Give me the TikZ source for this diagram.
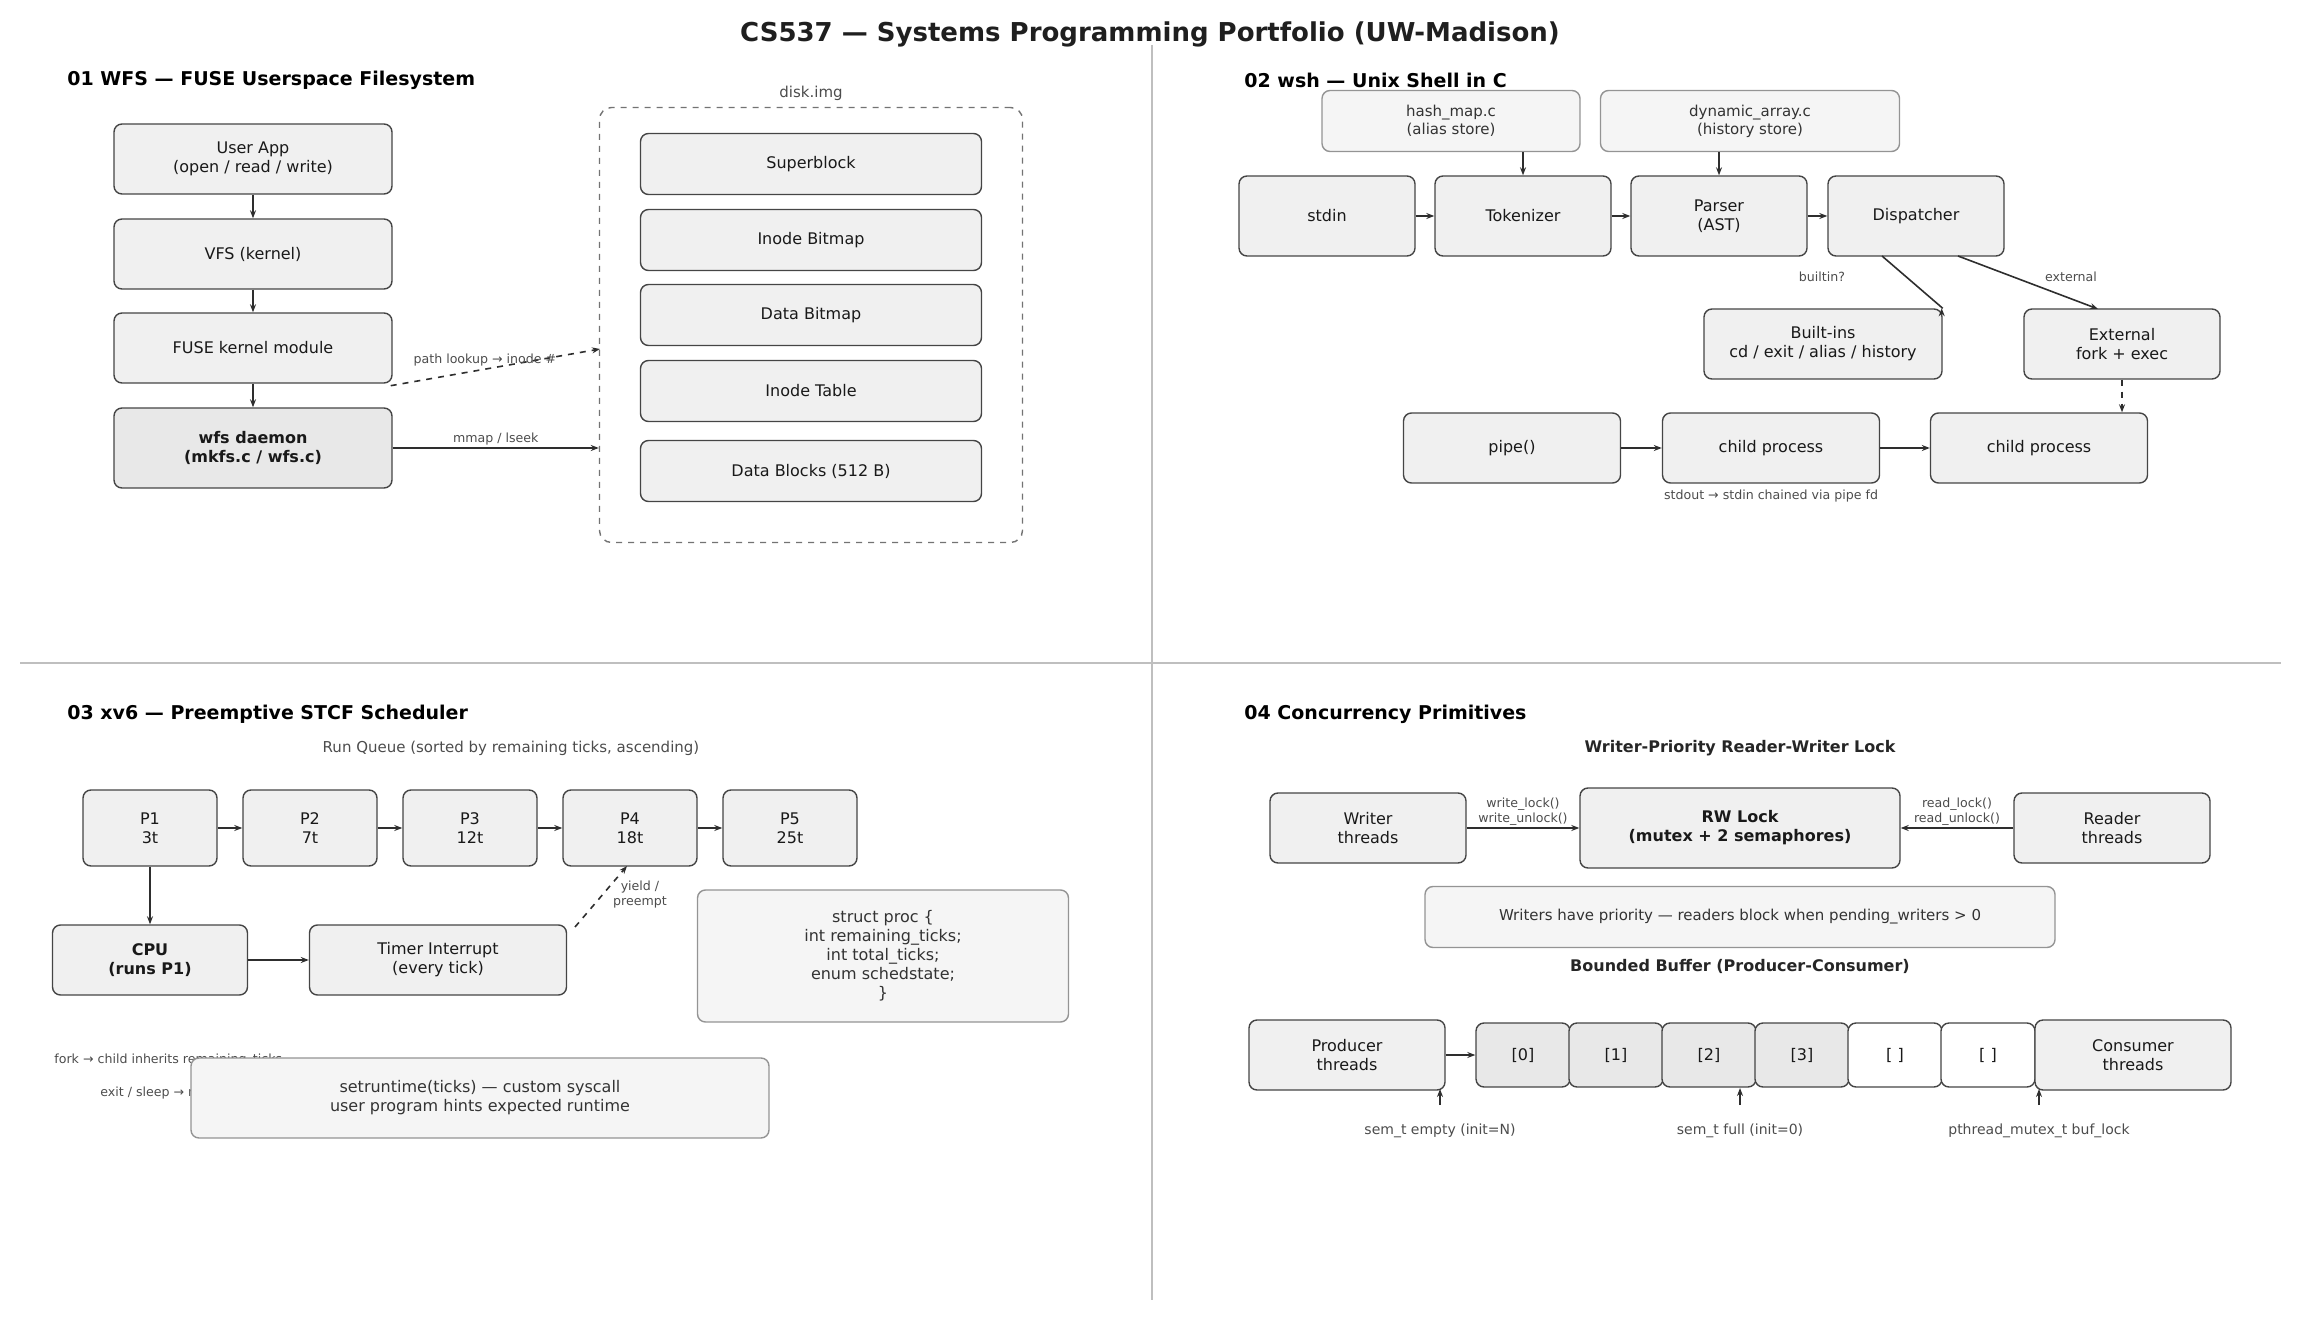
\documentclass[tikz,border=0pt]{standalone}
\usepackage{fontspec}
\setmainfont{DejaVu Sans}
\usetikzlibrary{arrows.meta,positioning}

\begin{document}
\begin{tikzpicture}[
  x=0.5pt, y=-0.5pt,
  sz/.style 2 args={minimum width=#1*0.5pt, minimum height=#2*0.5pt},
  box/.style={draw=black!73, fill=black!6, rounded corners=4pt, align=center, inner sep=0pt,
    font=\fontsize{8}{9.5}\selectfont, text=black!90, line width=0.7pt},
  lbox/.style={box, fill=black!4, draw=black!42, font=\fontsize{7.5}{9}\selectfont, text=black!80},
  slot/.style={box, sz={94}{64}, fill=black!9},
  eslot/.style={box, sz={94}{64}, fill=white},
  arr/.style={-{Stealth[length=4pt]}, line width=0.8pt, draw=black!82},
  darr/.style={arr, dashed},
  lbl/.style={font=\fontsize{6.3}{7.5}\selectfont, text=black!70, align=center, inner sep=1pt},
  sec/.style={font=\bfseries\fontsize{9.5}{11}\selectfont, anchor=west, inner sep=0pt},
  sub/.style={font=\bfseries\fontsize{8}{9.5}\selectfont, text=black!85}
]
\useasboundingbox (0,0) rectangle (2301,1320);
\node[font=\bfseries\fontsize{13}{15}\selectfont, text=black!88] (title) at (1150,34) {CS537 — Systems Programming Portfolio  (UW-Madison)};
\draw[black!25, line width=0.8pt] (1152,45) -- (1152,1300);
\draw[black!25, line width=0.8pt] (20,663) -- (2281,663);

% 01 WFS
\node[sec] (t1) at (67,80) {01  WFS — FUSE Userspace Filesystem};
\node[box, sz={278}{70}] (app) at (253,159) {User App\\(open / read / write)};
\node[box, sz={278}{70}] (vfs) at (253,254) {VFS (kernel)};
\node[box, sz={278}{70}] (fuse) at (253,348) {FUSE kernel module};
\node[box, sz={278}{80}, fill=black!9, font=\bfseries\fontsize{8}{9.5}\selectfont] (wfs) at (253,448) {wfs daemon\\(mkfs.c / wfs.c)};
\draw[arr] (app) -- (vfs);
\draw[arr] (vfs) -- (fuse);
\draw[arr] (fuse) -- (wfs);
\node[draw=black!55, dashed, rounded corners=6pt, line width=0.7pt, minimum width=423*0.5pt, minimum height=435*0.5pt] (disk) at (811,325) {};
\node[lbl, font=\fontsize{7.5}{9}\selectfont] (diskl) at (811,93) {disk.img};
\node[box, sz={341}{61}] (sb) at (811,164) {Superblock};
\node[box, sz={341}{61}] (ib) at (811,240) {Inode Bitmap};
\node[box, sz={341}{61}] (db) at (811,315) {Data Bitmap};
\node[box, sz={341}{61}] (it) at (811,391) {Inode Table};
\node[box, sz={341}{61}] (dbl) at (811,471) {Data Blocks (512 B)};
\coordinate (pin) at (600,349);
\draw[darr] (fuse.south east) ++(-2,2) -- node[lbl, above, pos=0.45] {path lookup → inode \#} (pin);
\draw[arr] (wfs.east) -- node[lbl, above] {mmap / lseek} (wfs.east -| disk.west);

% 02 wsh
\node[sec] (t2) at (1244,80) {02  wsh — Unix Shell in C};
\node[lbox, sz={258}{61}] (hm) at (1451,121) {hash\_map.c\\(alias store)};
\node[lbox, sz={299}{61}] (da) at (1750,121) {dynamic\_array.c\\(history store)};
\node[box, sz={176}{80}] (stdin) at (1327,216) {stdin};
\node[box, sz={176}{80}] (tok) at (1523,216) {Tokenizer};
\node[box, sz={176}{80}] (par) at (1719,216) {Parser\\(AST)};
\node[box, sz={176}{80}] (dis) at (1916,216) {Dispatcher};
\draw[arr] (hm.south -| tok) -- (tok);
\draw[arr] (da.south -| par) -- (par);
\draw[arr] (stdin) -- (tok);
\draw[arr] (tok) -- (par);
\draw[arr] (par) -- (dis);
\node[box, sz={238}{70}] (bi) at (1823,344) {Built-ins\\cd / exit / alias / history};
\node[box, sz={196}{70}] (ext) at (2122,344) {External\\fork + exec};
\draw[arr] (1882,256) -- (bi.north east) ++(-1,0);
\draw[arr] (1958,256) -- (2098,309);
\node[lbl] (lb) at (1822,277) {builtin?};
\node[lbl] (le) at (2071,277) {external};
\node[box, sz={217}{70}] (pipe) at (1512,448) {pipe()};
\node[box, sz={217}{70}] (c1) at (1771,448) {child process};
\node[box, sz={217}{70}] (c2) at (2039,448) {child process};
\draw[darr] (ext) -- (ext.south |- c2.north);
\draw[arr] (pipe) -- (c1);
\draw[arr] (c1) -- (c2);
\node[lbl] (pl) at (1771,496) {stdout → stdin chained via pipe fd};

% 03 xv6
\node[sec] (t3) at (67,714) {03  xv6 — Preemptive STCF Scheduler};
\node[lbl, font=\fontsize{7.5}{9}\selectfont] (rq) at (511,748) {Run Queue  (sorted by remaining ticks, ascending)};
\foreach \n/\t/\x in {1/3t/150, 2/7t/310, 3/12t/470, 4/18t/630, 5/25t/790}
  \node[box, sz={134}{76}] (p\n) at (\x,828) {P\n\\\t};
\foreach \a/\b in {1/2, 2/3, 3/4, 4/5}
  \draw[arr] (p\a) -- (p\b);
\node[box, sz={195}{70}, font=\bfseries\fontsize{8}{9.5}\selectfont] (cpu) at (150,960) {CPU\\(runs P1)};
\node[box, sz={257}{70}] (tim) at (438,960) {Timer Interrupt\\(every tick)};
\draw[arr] (p1) -- (cpu);
\draw[arr] (cpu) -- (tim);
\draw[darr] (575,927) -- (627,866);
\node[lbl] (yl) at (640,895) {yield /\\preempt};
\node[lbox, sz={371}{132}, font=\fontsize{8}{9.5}\selectfont] (sp) at (883,956) {struct proc \{\\int remaining\_ticks;\\int total\_ticks;\\enum schedstate;\\\}};
\node[lbl, anchor=west] (fk) at (52,1060) {fork  →  child inherits remaining\_ticks};
\node[lbl, anchor=west] (ex) at (98,1093) {exit / sleep  →  requeue};
\node[lbox, sz={578}{80}, font=\fontsize{8}{9.5}\selectfont] (sr) at (480,1098) {setruntime(ticks)  — custom syscall\\user program hints expected runtime};

% 04 concurrency
\node[sec] (t4) at (1244,714) {04  Concurrency Primitives};
\node[sub] (rwt) at (1740,748) {Writer-Priority Reader-Writer Lock};
\node[box, sz={196}{70}] (wr) at (1368,828) {Writer\\threads};
\node[box, sz={320}{80}, font=\bfseries\fontsize{8}{9.5}\selectfont] (rw) at (1740,828) {RW Lock\\(mutex + 2 semaphores)};
\node[box, sz={196}{70}] (rd) at (2112,828) {Reader\\threads};
\draw[arr] (wr) -- node[lbl, above] {write\_lock()\\write\_unlock()} (rw);
\draw[arr] (rd) -- node[lbl, above] {read\_lock()\\read\_unlock()} (rw);
\node[lbox, sz={630}{61}] (pri) at (1740,917) {Writers have priority — readers block when pending\_writers > 0};
\node[sub] (bbt) at (1740,966) {Bounded Buffer  (Producer-Consumer)};
\node[box, sz={196}{70}] (prod) at (1347,1055) {Producer\\threads};
\node[slot] (s0) at (1523,1055) {[0]};
\node[slot] (s1) at (1616,1055) {[1]};
\node[slot] (s2) at (1709,1055) {[2]};
\node[slot] (s3) at (1802,1055) {[3]};
\node[eslot] (s4) at (1895,1055) {[ ]};
\node[eslot] (s5) at (1988,1055) {[ ]};
\node[box, sz={196}{70}] (cons) at (2133,1055) {Consumer\\threads};
\draw[arr] (prod) -- (s0);
\node[lbl, font=\fontsize{7}{8.5}\selectfont] (se) at (1440,1131) {sem\_t empty (init=N)};
\node[lbl, font=\fontsize{7}{8.5}\selectfont] (sf) at (1740,1131) {sem\_t full (init=0)};
\node[lbl, font=\fontsize{7}{8.5}\selectfont] (sm) at (2039,1131) {pthread\_mutex\_t buf\_lock};
\draw[arr] (1440,1105) -- (1440,1089);
\draw[arr] (1740,1105) -- (1740,1088);
\draw[arr] (2039,1105) -- (2039,1089);
\end{tikzpicture}
\end{document}
